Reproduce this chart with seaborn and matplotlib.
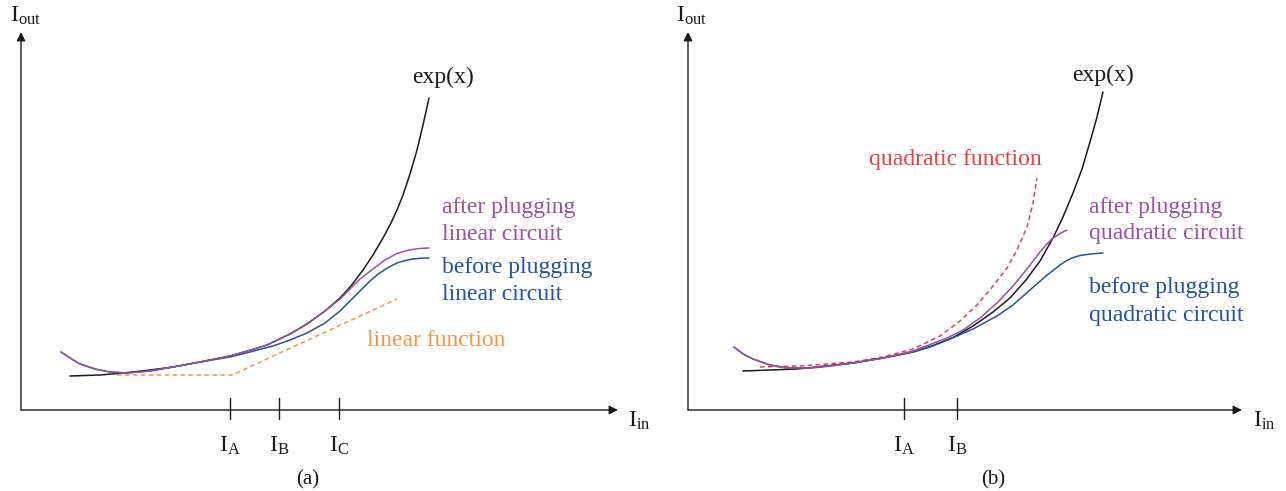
import numpy as np
import pandas as pd
import matplotlib
matplotlib.use("Agg")
import matplotlib.pyplot as plt
import seaborn as sns

# ---------------- data (I_in, I_out in arbitrary units) ----------------
# panel (a): linear correction
a_exp_x = [0.49, 0.79, 1.02, 1.29, 1.52, 1.79, 2.09, 2.30, 2.46, 2.69, 2.86, 3.04,
           3.19, 3.30, 3.42, 3.52, 3.62, 3.69, 3.76, 3.82, 3.89, 3.96, 4.02, 4.08]
a_exp_y = [0.34, 0.35, 0.37, 0.40, 0.43, 0.48, 0.54, 0.60, 0.65, 0.76, 0.86, 0.99,
           1.12, 1.24, 1.40, 1.55, 1.72, 1.85, 2.00, 2.15, 2.36, 2.60, 2.85, 3.12]

a_after_x = [0.40, 0.49, 0.59, 0.74, 0.89, 1.06, 1.29, 1.52, 1.79, 2.09, 2.30, 2.46,
             2.69, 2.86, 3.04, 3.19, 3.29, 3.39, 3.52, 3.64, 3.76, 3.88, 3.98, 4.08]
a_after_y = [0.58, 0.52, 0.46, 0.41, 0.38, 0.37, 0.39, 0.43, 0.48, 0.54, 0.60, 0.65,
             0.76, 0.86, 0.99, 1.11, 1.21, 1.31, 1.41, 1.50, 1.565, 1.60, 1.615, 1.62]

a_before_x = [0.40, 0.49, 0.59, 0.74, 0.89, 1.06, 1.29, 1.52, 1.79, 2.09, 2.29, 2.52,
              2.69, 2.86, 3.04, 3.19, 3.29, 3.39, 3.49, 3.56, 3.64, 3.70, 3.76, 3.84,
              3.92, 4.00, 4.08]
a_before_y = [0.58, 0.52, 0.46, 0.41, 0.38, 0.37, 0.39, 0.43, 0.48, 0.53, 0.58, 0.64,
              0.70, 0.77, 0.87, 0.99, 1.09, 1.19, 1.29, 1.35, 1.405, 1.44, 1.47, 1.495,
              1.51, 1.518, 1.52]

a_lin_x = [0.96, 2.11, 3.76]
a_lin_y = [0.35, 0.35, 1.11]

a_ticks = [2.09, 2.58, 3.18]
a_tick_labels = [r"$\mathrm{I_{A}}$", r"$\mathrm{I_{B}}$", r"$\mathrm{I_{C}}$"]

# panel (b): quadratic correction
b_exp_x = [0.55, 0.82, 1.09, 1.37, 1.65, 1.95, 2.25, 2.45, 2.65, 2.85, 3.05, 3.22,
           3.38, 3.52, 3.65, 3.75, 3.85, 3.94, 4.02, 4.09, 4.15]
b_exp_y = [0.39, 0.40, 0.41, 0.44, 0.47, 0.52, 0.58, 0.645, 0.725, 0.84, 0.98, 1.12,
           1.30, 1.49, 1.72, 1.93, 2.17, 2.41, 2.68, 2.93, 3.18]

b_after_x = [0.46, 0.55, 0.65, 0.82, 0.99, 1.22, 1.42, 1.65, 1.95, 2.25, 2.59, 2.75,
             2.92, 3.09, 3.25, 3.39, 3.52, 3.59, 3.65, 3.72, 3.79]
b_after_y = [0.63, 0.56, 0.51, 0.45, 0.42, 0.42, 0.44, 0.47, 0.52, 0.59, 0.72, 0.80,
             0.92, 1.07, 1.24, 1.41, 1.58, 1.66, 1.72, 1.765, 1.80]

b_before_x = [0.46, 0.55, 0.65, 0.82, 0.99, 1.22, 1.42, 1.65, 1.95, 2.25, 2.42, 2.62,
              2.85, 3.09, 3.25, 3.42, 3.58, 3.72, 3.78, 3.84, 3.92, 4.02, 4.15]
b_before_y = [0.63, 0.56, 0.51, 0.45, 0.42, 0.42, 0.44, 0.47, 0.52, 0.58, 0.63, 0.71,
              0.81, 0.94, 1.05, 1.20, 1.34, 1.45, 1.49, 1.52, 1.545, 1.56, 1.57]

b_quad_x = [0.72, 1.12, 1.65, 1.95, 2.25, 2.52, 2.72, 2.89, 3.05, 3.19, 3.29, 3.39,
            3.45, 3.49]
b_quad_y = [0.43, 0.44, 0.48, 0.53, 0.61, 0.74, 0.89, 1.05, 1.24, 1.42, 1.60, 1.83,
            2.07, 2.32]

b_ticks = [2.16, 2.69]
b_tick_labels = [r"$\mathrm{I_{A}}$", r"$\mathrm{I_{B}}$"]

# ---------------- style ----------------
sns.set_theme(style="white")
plt.rcParams["font.family"] = ["Liberation Serif", "DejaVu Serif"]
plt.rcParams["mathtext.fontset"] = "custom"
plt.rcParams["mathtext.rm"] = "Liberation Serif"
plt.rcParams["mathtext.it"] = "Liberation Serif:italic"

BLACK = "#1a1a1a"
PURPLE = "#9b4fa6"
BLUE = "#1f52a8"
ORANGE = "#f79346"
RED = "#f03c3c"
LW = 1.1
LABEL_FS = 17
AXIS_FS = 17

fig = plt.figure(figsize=(12.86, 4.91), dpi=100)
ax_a = fig.add_axes([0, 0, 0.5, 1])
ax_b = fig.add_axes([0.5, 0, 0.5, 1])


def curve(ax, x, y, color, dashed=False, z=2):
    df = pd.DataFrame({"x": x, "y": y})
    sns.lineplot(data=df, x="x", y="y", ax=ax, color=color, lw=LW,
                 sort=False, estimator=None, zorder=z)
    line = ax.lines[-1]
    line.set_solid_joinstyle("round")
    if dashed:
        line.set_dashes((3, 2.2))
    return line


def frame(ax, x_tip, y_tip, ticks, tick_labels, in_x, out_x, caption, cap_x):
    arrow = dict(arrowstyle="-|>", lw=1.0, color=BLACK, mutation_scale=13,
                 shrinkA=0, shrinkB=0)
    ax.annotate("", xy=(x_tip, 0), xytext=(0, 0), arrowprops=arrow)
    ax.annotate("", xy=(0, y_tip), xytext=(0, 0), arrowprops=arrow)
    for t, lab in zip(ticks, tick_labels):
        ax.plot([t, t], [0.12, -0.09], color=BLACK, lw=1.0)
        ax.text(t, -0.42, lab, ha="center", va="baseline", fontsize=AXIS_FS, color=BLACK)
    ax.text(in_x, -0.17, r"$\mathrm{I_{in}}$", ha="left", va="baseline",
            fontsize=AXIS_FS, color=BLACK)
    ax.text(out_x, 3.88, r"$\mathrm{I_{out}}$", ha="left", va="baseline",
            fontsize=AXIS_FS, color=BLACK)
    ax.text(cap_x, -0.70, caption, ha="center", va="center", fontsize=15, color=BLACK)
    ax.set_ylim(-0.81, 4.10)
    ax.set_axis_off()


# panel (a)
curve(ax_a, a_lin_x, a_lin_y, ORANGE, dashed=True, z=1)
curve(ax_a, a_exp_x, a_exp_y, BLACK, z=2)
curve(ax_a, a_before_x, a_before_y, BLUE, z=3)
curve(ax_a, a_after_x, a_after_y, PURPLE, z=4)
frame(ax_a, 5.97, 3.78, a_ticks, a_tick_labels, 6.07, -0.11, "(a)", 2.87)
ax_a.set_xlim(-0.21, 6.22)
ax_a.text(3.91, 3.33, "exp(x)", fontsize=LABEL_FS, color=BLACK, va="center")
ax_a.text(4.21, 2.03, "after plugging", fontsize=LABEL_FS, color=PURPLE, va="center")
ax_a.text(4.21, 1.76, "linear circuit", fontsize=LABEL_FS, color=PURPLE, va="center")
ax_a.text(4.21, 1.42, "before plugging", fontsize=LABEL_FS, color=BLUE, va="center")
ax_a.text(4.21, 1.15, "linear circuit", fontsize=LABEL_FS, color=BLUE, va="center")
ax_a.text(3.46, 0.70, "linear function", fontsize=LABEL_FS, color=ORANGE, va="center")

# panel (b)
curve(ax_b, b_quad_x, b_quad_y, RED, dashed=True, z=1)
curve(ax_b, b_exp_x, b_exp_y, BLACK, z=2)
curve(ax_b, b_before_x, b_before_y, BLUE, z=3)
curve(ax_b, b_after_x, b_after_y, PURPLE, z=4)
frame(ax_b, 5.54, 3.78, b_ticks, b_tick_labels, 5.65, -0.12, "(b)", 3.05)
ax_b.set_xlim(-0.45, 5.98)
ax_b.text(3.84, 3.35, "exp(x)", fontsize=LABEL_FS, color=BLACK, va="center")
ax_b.text(1.81, 2.50, "quadratic function", fontsize=LABEL_FS, color=RED, va="center")
ax_b.text(4.01, 2.03, "after plugging", fontsize=LABEL_FS, color=PURPLE, va="center")
ax_b.text(4.01, 1.76, "quadratic circuit", fontsize=LABEL_FS, color=PURPLE, va="center")
ax_b.text(4.01, 1.22, "before plugging", fontsize=LABEL_FS, color=BLUE, va="center")
ax_b.text(4.01, 0.95, "quadratic circuit", fontsize=LABEL_FS, color=BLUE, va="center")

fig.savefig("out.png", dpi=100)
